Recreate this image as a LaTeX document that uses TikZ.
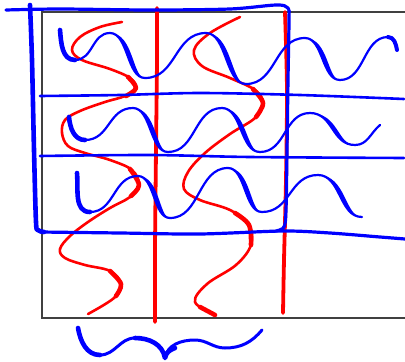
\documentclass[tikz,border=0pt]{standalone}
\begin{document}
\begin{tikzpicture}[x=1pt,y=1pt,
  bl/.style={draw=blue, line cap=round, line join=round},
  thinw/.style={bl, line width=2.2pt},
  thickw/.style={bl, line width=4.6pt},
  framew/.style={bl, line width=3.2pt},
  rd/.style={draw=red, line cap=round, line join=round, line width=2.6pt},
  rdthick/.style={draw=red, line cap=round, line join=round, line width=4.6pt}]
\newcommand\wthin[4]{\pgfmathsetmacro\cc{0.52*(#3-#1)}%
  \draw[thinw] (#1,#2) .. controls ({#1+\cc},#2) and ({#3-\cc},#4) .. (#3,#4);}
\newcommand\wthick[4]{\pgfmathsetmacro\cc{0.52*(#3-#1)}%
  \draw[thinw] (#1,#2) .. controls ({#1+\cc},#2) and ({#3-\cc},#4) .. (#3,#4);%
  \fill[blue] (#1,#2) .. controls ({#1+\cc},#2) and ({#3-\cc},#4) .. (#3,#4)
     .. controls ({#3-\cc+5.5},#4) and ({#1+\cc+5.5},#2) .. cycle;}
\useasboundingbox (0,0) rectangle (405,-362);
% grey frame
\draw[draw=black!75, line width=2pt] (41.5,-11.5) rectangle (412,-318);
% red verticals
\draw[rd, line width=3.8pt] plot[smooth] coordinates {(157,-8) (157,-60) (156,-150) (155,-250) (155,-322)};
\draw[rd, line width=3.8pt] plot[smooth] coordinates {(285,-12) (287,-90) (286,-180) (284,-260) (283,-313)};
% red S curves
\draw[rd] plot[smooth,tension=0.6] coordinates {(122,-22) (100,-27) (80,-37) (72,-50) (82,-60) (110,-69) (130,-78) (136,-88) (125,-96) (105,-102) (80,-111) (65,-120) (62,-133) (68,-146) (85,-153) (110,-160) (132,-170) (139,-185) (130,-197) (110,-208) (88,-222) (70,-236) (60,-249) (65,-258) (85,-265) (110,-271) (121,-284) (114,-298) (88,-314)};
\draw[rdthick] plot[smooth,tension=0.6] coordinates {(128,-77) (136,-88) (126,-96)};
\draw[rdthick] plot[smooth,tension=0.6] coordinates {(130,-169) (139,-185) (131,-196)};
\draw[rdthick] plot[smooth,tension=0.6] coordinates {(110,-271) (121,-284) (116,-296)};
\draw[rd] plot[smooth,tension=0.6] coordinates {(240,-17) (210,-33) (194,-50) (202,-66) (230,-78) (255,-90) (263,-103) (255,-118) (230,-134) (205,-153) (188,-172) (184,-189) (200,-200) (230,-210) (249,-225) (251,-245) (236,-265) (207,-284) (195,-302) (215,-315)};
\draw[rdthick] plot[smooth,tension=0.6] coordinates {(253,-89) (263,-103) (256,-117)};
\draw[rdthick] plot[smooth,tension=0.6] coordinates {(235,-213) (249,-225) (251,-245)};
\draw[rdthick] plot[smooth,tension=0.6] coordinates {(200,-307) (215,-315)};
% blue frame
\draw[framew] plot[smooth,tension=0.5] coordinates {(6,-10) (60,-9) (150,-10) (230,-9) (276,-5) (288,-8) (289,-20) (288,-80) (287,-150) (286,-210) (284,-227) (276,-231)};
\draw[bl, line width=4.6pt] plot[smooth,tension=0.5] coordinates {(30,-5) (32,-60) (34,-150) (36,-222) (38,-230) (44,-232)};
\draw[framew] plot[smooth,tension=0.5] coordinates {(40,-232) (120,-233) (200,-234) (283,-231) (330,-233) (380,-237) (405,-239)};
% thin horizontals
\draw[thinw, line width=2.6pt] plot[smooth,tension=0.5] coordinates {(40,-96) (120,-95) (200,-93) (300,-95) (404,-99)};
\draw[thinw, line width=2.6pt] plot[smooth,tension=0.5] coordinates {(40,-156) (150,-155) (250,-157) (404,-158)};
% row 1 wave
\draw[thickw] (60,-30) to[out=-85,in=180] (75,-60);
\wthin{75}{-60}{110}{-33}
\wthick{110}{-33}{145}{-78}
\wthin{145}{-78}{206}{-33}
\wthick{206}{-33}{246}{-84}
\wthin{246}{-84}{305}{-38}
\wthick{305}{-38}{340}{-80}
\wthin{340}{-80}{388}{-37}
\draw[thickw, line width=4pt] (388,-37) to[out=0,in=100] (397,-50);
% row 2 wave
\draw[thickw] (69,-117) to[out=-85,in=180] (85,-140);
\wthin{85}{-140}{133}{-108}
\wthick{133}{-108}{168}{-152}
\wthin{168}{-152}{222}{-108}
\wthick{222}{-108}{260}{-152}
\wthin{260}{-152}{310}{-113}
\wthick{310}{-113}{355}{-145}
\draw[thinw] (355,-145) to[out=0,in=220] (380,-125);
% row 3 wave
\draw[thickw] (77,-173) to[out=-85,in=180] (90,-212);
\wthin{90}{-212}{138}{-176}
\wthick{138}{-176}{170}{-218}
\wthin{170}{-218}{228}{-168}
\wthick{228}{-168}{262}{-212}
\wthin{262}{-212}{318}{-175}
\wthick{318}{-175}{362}{-217}
% bottom wave
\draw[thinw, line width=3pt] (78,-328) to[out=-80,in=180] (100,-355) to[out=0,in=180] (135,-338) to[out=0,in=100] (165,-358) to[out=80,in=180] (195,-340) to[out=0,in=180] (225,-348) to[out=0,in=230] (262,-330);
\draw[thickw] (78,-328) to[out=-80,in=180] (100,-355);
\draw[thickw] (135,-338) to[out=0,in=100] (165,-358) to[out=80,in=200] (175,-348);
\end{tikzpicture}
\end{document}
